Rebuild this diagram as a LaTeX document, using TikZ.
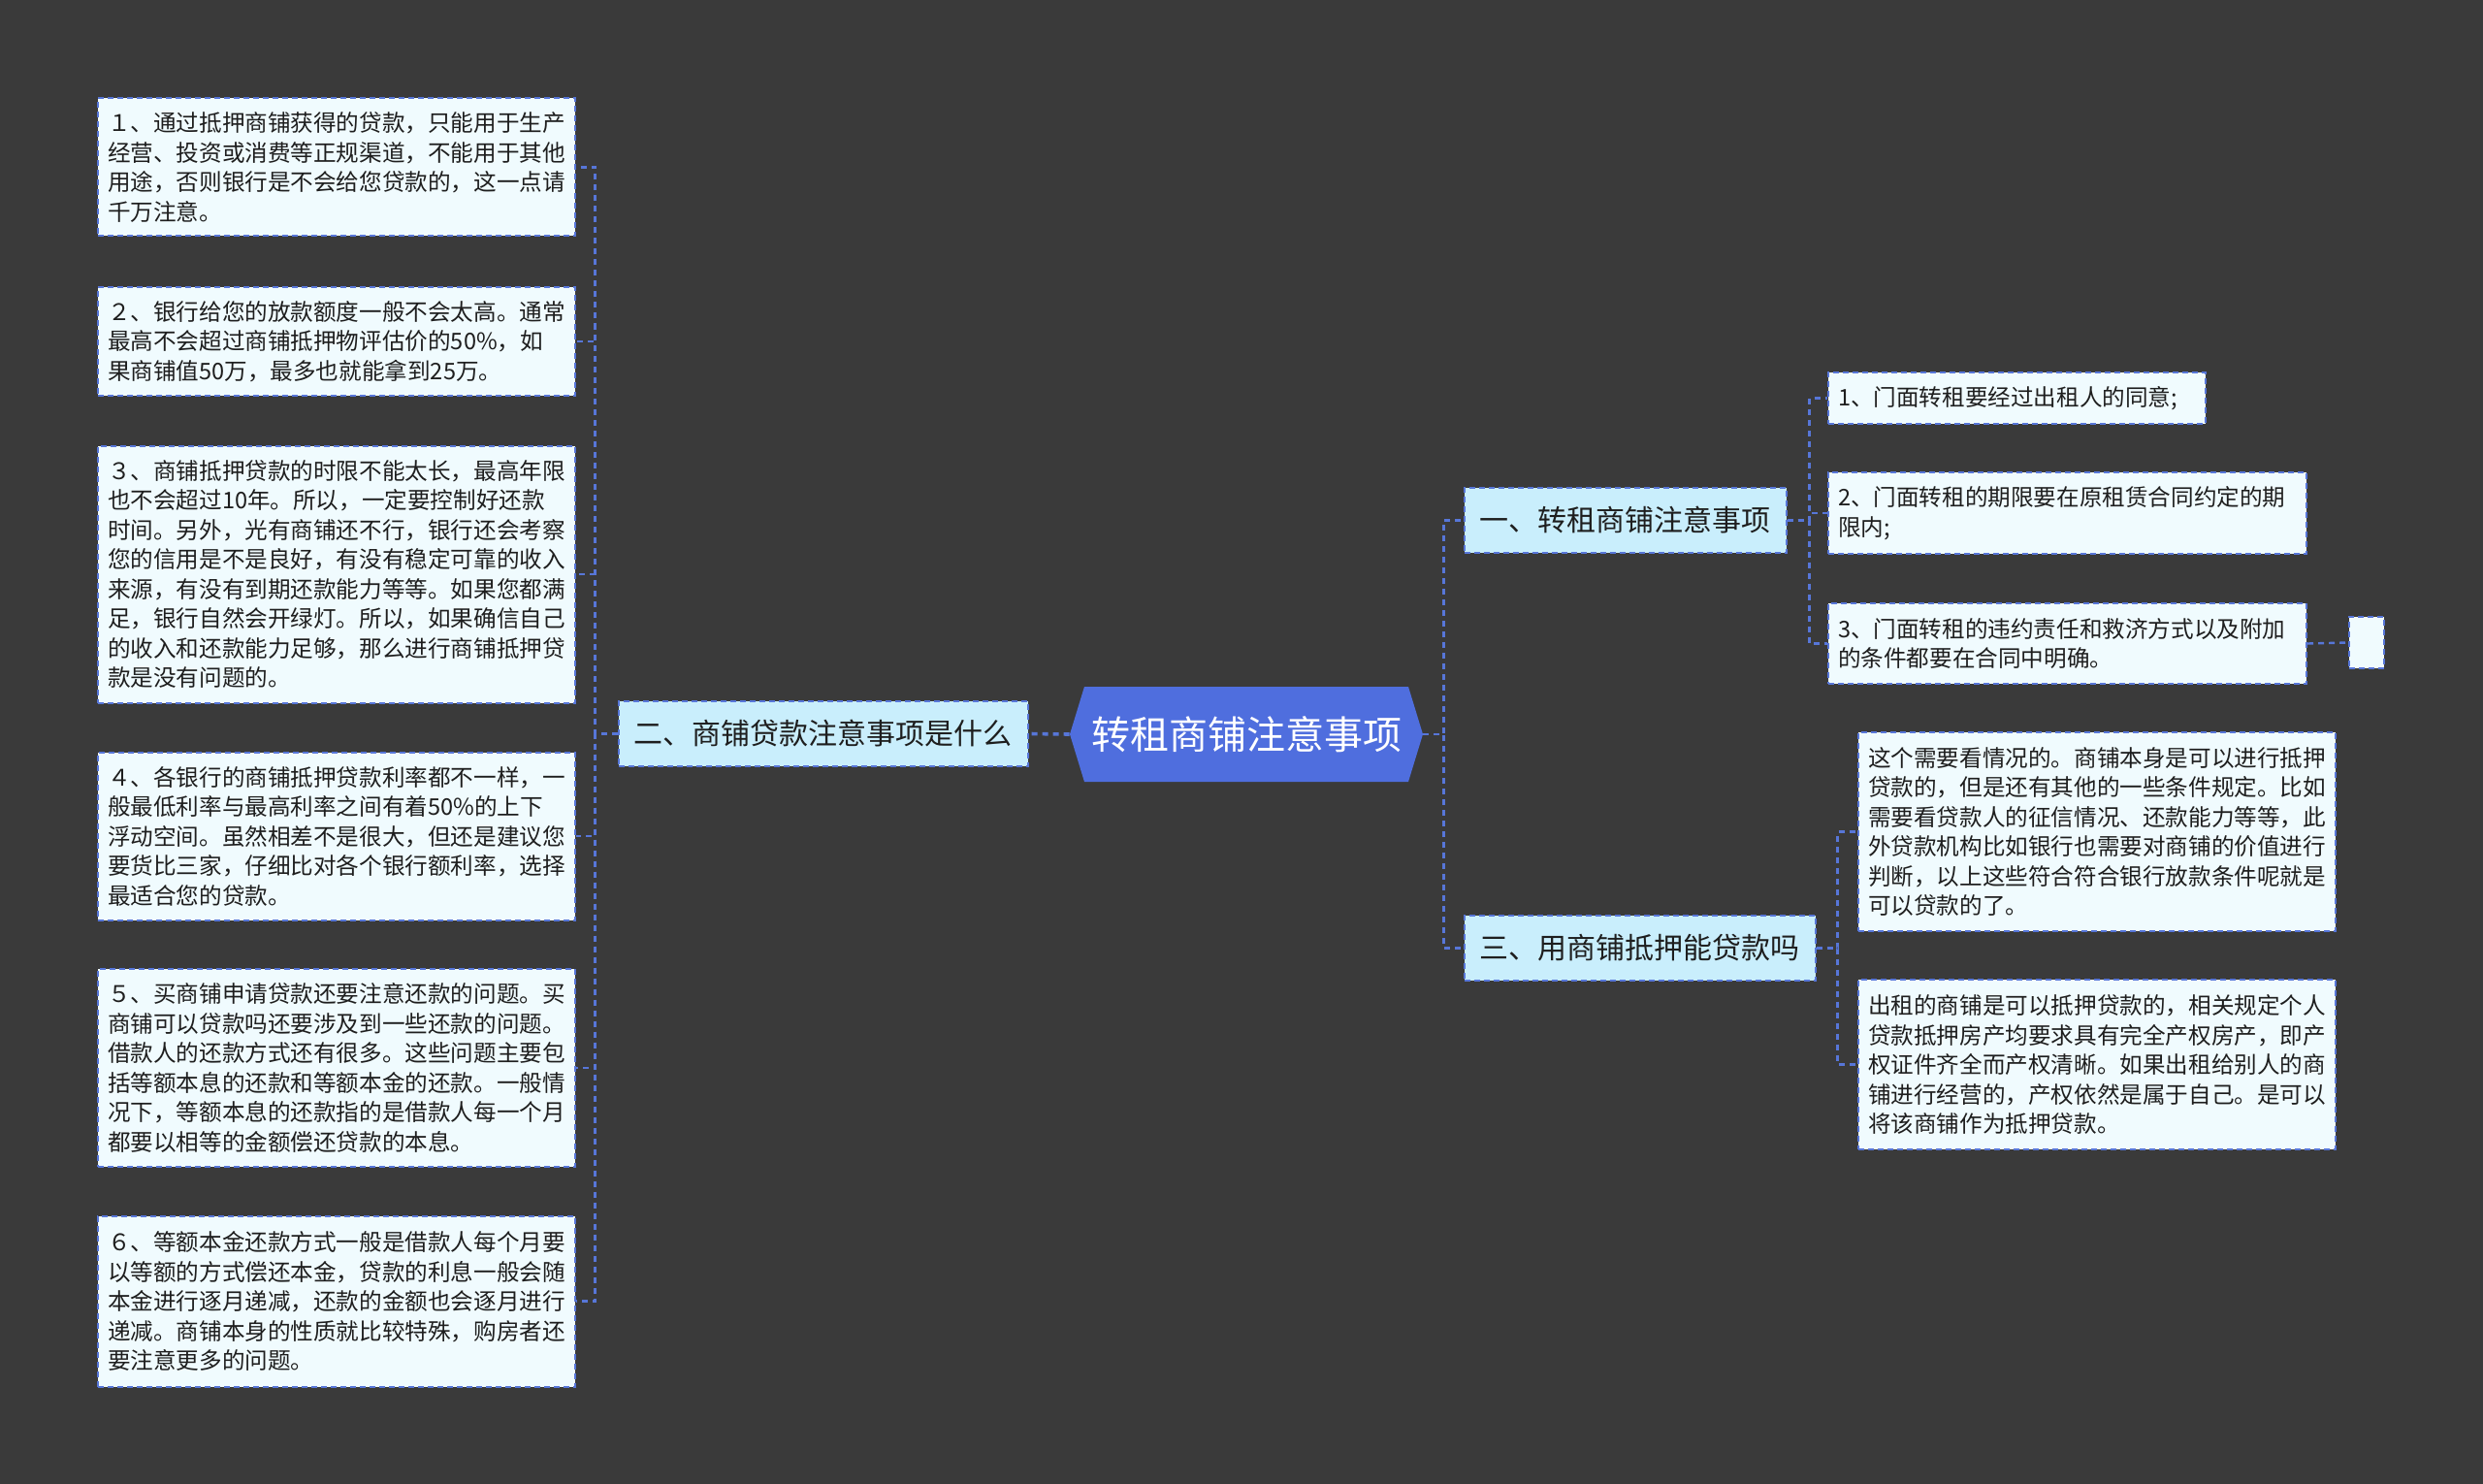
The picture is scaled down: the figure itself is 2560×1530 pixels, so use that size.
\documentclass[tikz,border=0pt]{standalone}
\usepackage{fontspec}
\setmainfont{Noto Sans CJK SC}
\usetikzlibrary{shapes.symbols}

\definecolor{bgdark}{HTML}{3A3A3A}
\definecolor{rootblue}{HTML}{4F6EDE}
\definecolor{edgeblue}{HTML}{5776D8}
\definecolor{branchfill}{HTML}{C9EEFC}
\definecolor{leaffill}{HTML}{F0FBFE}
\definecolor{inktext}{HTML}{1E1E1E}

\begin{document}
\begin{tikzpicture}[x=0.5pt,y=-0.5pt,
    link/.style={draw=edgeblue, line width=1.2pt, dash pattern=on 3pt off 2.5pt},
    rootbox/.style={signal, signal to=west and east, signal pointer angle=146,
        fill=rootblue, text=white, minimum width=182pt, minimum height=49pt,
        inner sep=0pt, font=\fontsize{20}{24}\selectfont},
    branchbox/.style={draw=edgeblue, line width=1pt, dash pattern=on 3pt off 2pt,
        fill=branchfill, text=inktext, minimum height=33.5pt, inner xsep=8pt,
        font=\fontsize{15}{18}\selectfont},
    leafbox/.style={draw=edgeblue, line width=1pt, dash pattern=on 3pt off 2pt,
        fill=leaffill, text=inktext, align=left, inner xsep=5pt, inner ysep=4pt,
        font=\fontsize{11.8}{15.25}\selectfont}]

    \def\lx{347}
    \def\rx{2131.5}
    \def\qx{2162}

    % --- background ---
    \fill[bgdark] (0,0) rectangle (2560,1530);
    \useasboundingbox (0,0) rectangle (2560,1530);

    % --- centre and main branches ---
    \node[rootbox] (root) at (1285,757) {转租商铺注意事项};
    \node[branchbox] (b2) at (848.5,756.5) {二、商铺贷款注意事项是什么};
    \node[branchbox] (b1) at (1675.5,536.5) {一、转租商铺注意事项};
    \node[branchbox] (b3) at (1690.5,977.5) {三、用商铺抵押能贷款吗};

    % --- left leaves ---
    \node[leafbox, text width=236pt, minimum height=71pt] (l1) at (\lx,172.5)
        {１、通过抵押商铺获得的贷款，只能用于生产\\经营、投资或消费等正规渠道，不能用于其他\\用途，否则银行是不会给您贷款的，这一点请\\千万注意。};
    \node[leafbox, text width=236pt, minimum height=56pt] (l2) at (\lx,352)
        {２、银行给您的放款额度一般不会太高。通常\\最高不会超过商铺抵押物评估价的50\%，如\\果商铺值50万，最多也就能拿到25万。};
    \node[leafbox, text width=236pt, minimum height=132.5pt] (l3) at (\lx,592)
        {３、商铺抵押贷款的时限不能太长，最高年限\\也不会超过10年。所以，一定要控制好还款\\时间。另外，光有商铺还不行，银行还会考察\\您的信用是不是良好，有没有稳定可靠的收入\\来源，有没有到期还款能力等等。如果您都满\\足，银行自然会开绿灯。所以，如果确信自己\\的收入和还款能力足够，那么进行商铺抵押贷\\款是没有问题的。};
    \node[leafbox, text width=236pt, minimum height=86.5pt] (l4) at (\lx,862)
        {４、各银行的商铺抵押贷款利率都不一样，一\\般最低利率与最高利率之间有着50\%的上下\\浮动空间。虽然相差不是很大，但还是建议您\\要货比三家，仔细比对各个银行额利率，选择\\最适合您的贷款。};
    \node[leafbox, text width=236pt, minimum height=102pt] (l5) at (\lx,1101)
        {５、买商铺申请贷款还要注意还款的问题。买\\商铺可以贷款吗还要涉及到一些还款的问题。\\借款人的还款方式还有很多。这些问题主要包\\括等额本息的还款和等额本金的还款。一般情\\况下，等额本息的还款指的是借款人每一个月\\都要以相等的金额偿还贷款的本息。};
    \node[leafbox, text width=236pt, minimum height=88pt] (l6) at (\lx,1341.5)
        {６、等额本金还款方式一般是借款人每个月要\\以等额的方式偿还本金，贷款的利息一般会随\\本金进行逐月递减，还款的金额也会逐月进行\\递减。商铺本身的性质就比较特殊，购房者还\\要注意更多的问题。};

    % --- right leaves ---
    \node[leafbox, text width=184.5pt, minimum height=26.5pt] (r1) at (2079.5,410.5)
        {1、门面转租要经过出租人的同意;};
    \node[leafbox, text width=236.5pt, minimum height=42pt] (r2) at (\rx,529)
        {2、门面转租的期限要在原租赁合同约定的期\\限内;};
    \node[leafbox, text width=236.5pt, minimum height=41.5pt] (r3) at (\rx,663.5)
        {3、门面转租的违约责任和救济方式以及附加\\的条件都要在合同中明确。};
    \node[leafbox, minimum width=18pt, minimum height=26.5pt, inner sep=0pt] (stub) at (2440,662.5) {};
    \node[leafbox, text width=236pt, minimum height=102.5pt] (r4) at (\qx,857.5)
        {这个需要看情况的。商铺本身是可以进行抵押\\贷款的，但是还有其他的一些条件规定。比如\\需要看贷款人的征信情况、还款能力等等，此\\外贷款机构比如银行也需要对商铺的价值进行\\判断，以上这些符合符合银行放款条件呢就是\\可以贷款的了。};
    \node[leafbox, text width=236pt, minimum height=87.5pt] (r5) at (\qx,1097.5)
        {出租的商铺是可以抵押贷款的，相关规定个人\\贷款抵押房产均要求具有完全产权房产，即产\\权证件齐全而产权清晰。如果出租给别人的商\\铺进行经营的，产权依然是属于自己。是可以\\将该商铺作为抵押贷款。};

    % --- connectors ---
    \draw[link, line width=1.8pt] (root.west) -- (b2.east);
    \foreach \n in {1,...,6}
        \draw[link] (b2.west) -- ++(-23,0) |- (l\n.east);
    \draw[link] (root.east) -- ++(21,0) |- (b1.west);
    \draw[link] (root.east) -- ++(21,0) |- (b3.west);
    \foreach \n in {1,2,3}
        \draw[link] (b1.east) -- ++(23,0) |- (r\n.west);
    \draw[link] (r3.east) -- (stub.west);
    \foreach \n in {4,5}
        \draw[link] (b3.east) -- ++(22,0) |- (r\n.west);

\end{tikzpicture}
\end{document}
